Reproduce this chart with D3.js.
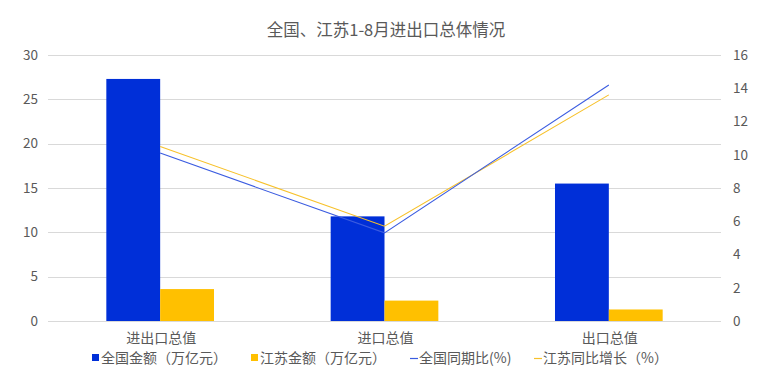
<!DOCTYPE html>
<html><head><meta charset="utf-8">
<script src="https://cdn.jsdelivr.net/npm/d3@7"></script>
<style>
html,body{margin:0;padding:0;background:#fff;}
svg{display:block;}
text{font-family:"Microsoft YaHei","Noto Sans CJK SC","Liberation Sans",sans-serif;}
</style></head>
<body><svg id="c" width="760" height="385"></svg>
<script>
const title = "全国、江苏1-8月进出口总体情况";
const categories = ["进出口总值", "进口总值", "出口总值"];
const nationalAmount = [27.3, 11.8, 15.5];
const jiangsuAmount = [3.6, 2.3, 1.3];
const nationalGrowth = [10.1, 5.3, 14.2];
const jiangsuGrowth = [10.5, 5.7, 13.6];
const leftTicks = [0, 5, 10, 15, 20, 25, 30];
const rightTicks = [0, 2, 4, 6, 8, 10, 12, 14, 16];
const seriesNames = ["全国金额（万亿元）", "江苏金额（万亿元）", "全国同期比(%)", "江苏同比增长（%）"];

const BLUE = "#002fd8", YELLOW = "#ffc000", LBLUE = "#3b5ce0", LYELLOW = "#f7c12a";
const GRID = "#d9d9d9", TXT = "#595959";

const svg = d3.select("#c");
const L = 48, R = 721, T = 55, B = 321;

const x = d3.scaleBand().domain(categories).range([L, R]).padding(0);
const yL = d3.scaleLinear().domain([0, 30]).range([B, T]);
const yR = d3.scaleLinear().domain([0, 16]).range([B, T]);

// title
svg.append("text").attr("x", 386).attr("y", 36).attr("text-anchor", "middle")
  .attr("font-size", 16.5).attr("fill", TXT).text(title);

// gridlines
svg.append("g").selectAll("line").data(leftTicks).join("line")
  .attr("x1", L).attr("x2", R)
  .attr("y1", d => Math.round(yL(d)) + 0.5).attr("y2", d => Math.round(yL(d)) + 0.5)
  .attr("stroke", GRID).attr("stroke-width", 1);

// left axis
const axL = svg.append("g").attr("transform", `translate(${L - 10},0)`)
  .call(d3.axisLeft(yL).tickValues(leftTicks).tickSize(0).tickPadding(0));
axL.select(".domain").remove();
axL.selectAll("text").attr("font-family", "Liberation Sans, Arial, sans-serif")
  .attr("font-size", 13.5).attr("fill", TXT);

// right axis
const axR = svg.append("g").attr("transform", `translate(${R + 12},0)`)
  .call(d3.axisRight(yR).tickValues(rightTicks).tickSize(0).tickPadding(0));
axR.select(".domain").remove();
axR.selectAll("text").attr("font-family", "Liberation Sans, Arial, sans-serif")
  .attr("font-size", 13.5).attr("fill", TXT);

const bw = x.bandwidth() * 0.24;
const cx = c => x(c) + x.bandwidth() / 2;

// bars
svg.append("g").selectAll("rect").data(categories).join("rect")
  .attr("x", c => cx(c) - bw).attr("width", bw)
  .attr("y", (c, i) => yL(nationalAmount[i])).attr("height", (c, i) => B - yL(nationalAmount[i]))
  .attr("fill", BLUE);
svg.append("g").selectAll("rect").data(categories).join("rect")
  .attr("x", c => cx(c)).attr("width", bw)
  .attr("y", (c, i) => yL(jiangsuAmount[i])).attr("height", (c, i) => B - yL(jiangsuAmount[i]))
  .attr("fill", YELLOW);

// lines
const line = arr => d3.line().x((d, i) => cx(categories[i])).y(d => yR(d))(arr);
svg.append("path").attr("d", line(jiangsuGrowth)).attr("fill", "none").attr("stroke", LYELLOW).attr("stroke-width", 1.1);
svg.append("path").attr("d", line(nationalGrowth)).attr("fill", "none").attr("stroke", LBLUE).attr("stroke-width", 1.1);

// category labels
svg.append("g").selectAll("text").data(categories).join("text")
  .attr("x", c => cx(c) + 1).attr("y", 343).attr("text-anchor", "middle")
  .attr("font-size", 14).attr("fill", TXT).text(c => c);

// legend
const leg = svg.append("g");
const items = [
  {x: 92, type: "rect", color: BLUE},
  {x: 251, type: "rect", color: YELLOW},
  {x: 410, type: "line", color: LBLUE},
  {x: 534, type: "line", color: LYELLOW}
];
items.forEach((it, i) => {
  if (it.type === "rect") {
    leg.append("rect").attr("x", it.x).attr("y", 354).attr("width", 7).attr("height", 7).attr("fill", it.color);
  } else {
    leg.append("line").attr("x1", it.x).attr("x2", it.x + 8).attr("y1", 358.5).attr("y2", 358.5)
      .attr("stroke", it.color).attr("stroke-width", 1.2);
  }
  leg.append("text").attr("x", it.x + 9).attr("y", 363).attr("font-size", 14).attr("fill", TXT).text(seriesNames[i]);
});
</script></body></html>
